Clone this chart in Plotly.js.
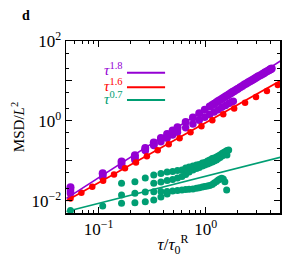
<!DOCTYPE html>
<html><head><meta charset="utf-8">
<script src="https://cdn.plot.ly/plotly-3.0.1.min.js"></script>
<style>html,body{margin:0;padding:0;background:#fff}#plot{width:305px;height:257px}</style>
</head><body><div id="plot"></div>
<script>
// ---- data ----
var tauA = [0.0545,0.109,0.1635,0.218,0.2725,0.327,0.3815,0.436,0.4905,0.545,0.65,0.76,0.87,0.98,1.09,1.15,1.2,1.26,1.31,1.36,1.42,1.47,1.53,1.58,1.64,1.70,1.75,1.80,1.85,1.93,2.0,2.1,2.2,2.3,2.4,2.5,2.6,2.7,2.8,2.9,3.0,3.1,3.25,3.4,3.5,3.6,3.75,3.9,4.0,4.07,4.14];
var msdA = [0.0219,0.0490,0.0955,0.138,0.209,0.288,0.372,0.468,0.575,0.692,0.933,1.216,1.549,1.905,2.291,2.489,2.692,2.911,3.126,3.319,3.589,3.784,4.074,4.285,4.571,4.853,5.129,5.346,5.623,6.012,6.383,6.934,7.499,8.091,8.610,9.290,9.772,10.47,10.96,11.69,12.30,13.03,13.96,14.96,15.67,16.41,17.38,18.54,19.28,19.86,20.42];
var tauB = [0.0545,0.109,0.1635,0.218,0.2725,0.327,0.3815,0.436,0.4905,0.545,0.65,0.76,0.87,0.98,1.09,1.2,1.31,1.42,1.53,1.64,1.75,1.81];
var msdB = [0.0151,0.0389,0.0741,0.1047,0.180,0.240,0.299,0.368,0.441,0.516,0.668,0.836,1.030,1.236,1.449,1.671,1.901,2.183,2.427,2.729,2.985,3.09];
var tauC = [0.0545,0.109,0.1635,0.218,0.2725,0.327,0.3815,0.436,0.4905,0.545];
var msdC = [0.0191,0.0452,0.0871,0.123,0.195,0.263,0.339,0.427,0.513,0.617];
var tauD = [0.0545,0.109,0.1635,0.218,0.2725,0.327];
var msdD = [0.0170,0.0417,0.0804,0.1135,0.186,0.251];

var tauRed = [0.0545,0.0689,0.0871,0.110,0.139,0.176,0.223,0.282,0.356,0.451,0.570,0.721,0.912,1.153,1.459,1.845,2.333,2.951,3.733,4.721];
var msdRed = [0.01135,0.0158,0.0224,0.0316,0.0452,0.0646,0.0912,0.130,0.184,0.260,0.367,0.519,0.733,1.035,1.462,2.04,2.85,3.98,5.56,7.94];

var tauG1 = [0.1635,0.218,0.2725,0.327,0.3815,0.436,0.4905,0.545,0.60,0.65,0.70,0.76,0.82,0.87,0.93,0.98,1.04,1.09,1.15,1.20,1.26,1.31,1.36,1.42,1.47,1.53,1.58,1.64];
var msdG1 = [0.0272,0.0299,0.0369,0.0439,0.0479,0.0522,0.0537,0.0569,0.0585,0.0657,0.0696,0.0737,0.0781,0.0804,0.0876,0.0902,0.0983,0.1041,0.1135,0.1168,0.1238,0.1311,0.1388,0.1514,0.1603,0.1698,0.1799,0.1851];
var tauG2 = [0.327,0.3815,0.436,0.4905,0.545,0.60,0.65,0.70,0.76,0.82,0.87,0.93,0.98,1.04,1.09,1.15,1.20,1.26,1.31,1.36,1.42,1.47,1.53,1.58];
var msdG2 = [0.0272,0.0293,0.0320,0.0339,0.0369,0.0403,0.0452,0.0522,0.0585,0.0638,0.0676,0.0737,0.0781,0.0827,0.0876,0.0928,0.0983,0.1041,0.1135,0.1202,0.1311,0.1388,0.1471,0.1388];
var tauG3 = [0.1635,0.218,0.2725,0.327,0.3815,0.436,0.4905,0.545,0.60,0.65,0.70,0.76,0.82,0.87,0.93,0.98,1.04,1.09,1.15,1.20,1.26,1.31,1.36,1.41,1.46,1.51,1.57];
var msdG3 = [0.0139,0.0153,0.0165,0.0168,0.0170,0.0170,0.0175,0.0180,0.0185,0.0191,0.0193,0.0198,0.0204,0.0210,0.0220,0.0226,0.0233,0.0240,0.0254,0.0277,0.0302,0.0329,0.0349,0.0363,0.0349,0.0299,0.0185];
var tauG4 = [0.0545,0.109,0.1635,0.218,0.2725,0.327,0.3815,0.436];
var msdG4 = [0.00569,0.00737,0.00861,0.00891,0.00944,0.0104,0.0124,0.0147];

// fitted power laws (end points)
var fitTau = [0.05, 5];
var fit18 = [0.0114, 31.6];
var fit16 = [0.0100, 10.1];
var fit07 = [0.00535, 0.1225];

var legendLabels = ['<i>τ</i><sup>1.8</sup>','<i>τ</i><sup>1.6</sup>','<i>τ</i><sup>0.7</sup>'];
var xTickVals = [0.1, 1];
var xTickText = ['10<sup>−1</sup>','10<sup>0</sup>'];
var yTickVals = [0.01, 0.1, 1, 10, 100];
var yTickText = ['10<sup>−2</sup>','','10<sup>0</sup>','','10<sup>2</sup>'];

// ---- styling ----
var PURPLE = '#9400d3', RED = '#ff0000', GREEN = '#009e73';
function pts(x, y, c, s) {
  return {x: x, y: y, type: 'scatter', mode: 'markers', marker: {color: c, size: s, line: {width: 0}}, showlegend: false, hoverinfo: 'skip'};
}
function ln(x, y, c) {
  return {x: x, y: y, type: 'scatter', mode: 'lines', line: {color: c, width: 1.6}, showlegend: false, hoverinfo: 'skip'};
}
var traces = [
  pts(tauD, msdD, PURPLE, 7.5), pts(tauC, msdC, PURPLE, 7.5), pts(tauB, msdB, PURPLE, 7.5), pts(tauA, msdA, PURPLE, 8),
  pts(tauRed, msdRed, RED, 6.5),
  pts(tauG4, msdG4, GREEN, 7), pts(tauG3, msdG3, GREEN, 7), pts(tauG2, msdG2, GREEN, 7), pts(tauG1, msdG1, GREEN, 7),
  ln(fitTau, fit18, PURPLE), ln(fitTau, fit16, RED), ln(fitTau, fit07, GREEN)
];

var xMinor = [0.06,0.07,0.08,0.09,0.2,0.3,0.4,0.5,0.6,0.7,0.8,0.9,2,3,4];
var yMinor = [0.02,0.05,0.2,0.5,2,5,20,50];
var FONT = '"Liberation Serif", "DejaVu Serif", serif';

var legendY = [0.836, 0.746, 0.666];
var lineY = [0.816, 0.731, 0.657];
var cols = [PURPLE, RED, GREEN];
var annotations = [], shapes = [];
for (var i = 0; i < 3; i++) {
  annotations.push({xref: 'paper', yref: 'paper', x: 0.275, y: legendY[i], xanchor: 'right', yanchor: 'middle',
    text: legendLabels[i], showarrow: false, font: {family: FONT, size: 15, color: cols[i]}});
  shapes.push({type: 'line', xref: 'paper', yref: 'paper', x0: 0.285, x1: 0.463, y0: lineY[i], y1: lineY[i],
    line: {color: cols[i], width: 2}});
}
annotations.push({xref: 'paper', yref: 'paper', x: -0.185, y: 1.151, xanchor: 'center', yanchor: 'middle',
  text: '<b>d</b>', showarrow: false, font: {family: FONT, size: 14, color: '#000'}});

var axisCommon = {type: 'log', showgrid: false, zeroline: false, showline: true, linecolor: '#000', linewidth: 1.5,
  mirror: 'allticks', ticks: 'inside', ticklen: 6, tickwidth: 1, tickcolor: '#000', tickmode: 'array',
  tickfont: {family: FONT, size: 17, color: '#000'}};

var layout = {
  width: 305, height: 257,
  margin: {l: 66, r: 25, t: 41, b: 44},
  paper_bgcolor: '#fff', plot_bgcolor: '#fff',
  xaxis: Object.assign({}, axisCommon, {
    range: [-1.3056, 0.6944], tickvals: xTickVals, ticktext: xTickText,
    minor: {tickmode: 'array', tickvals: xMinor, ticks: 'inside', ticklen: 3, tickcolor: '#000', tickwidth: 1, showgrid: false},
    title: {text: '<i>τ</i>/<i>τ</i><sub>0</sub><sup>R</sup>', font: {family: FONT, size: 17, color: '#000'}, standoff: 3}
  }),
  yaxis: Object.assign({}, axisCommon, {
    range: [-2.3075, 2.0], tickvals: yTickVals, ticktext: yTickText,
    minor: {tickmode: 'array', tickvals: yMinor, ticks: 'inside', ticklen: 3, tickcolor: '#000', tickwidth: 1, showgrid: false},
    title: {text: 'MSD/<i>L</i><sup>2</sup>', font: {family: FONT, size: 15, color: '#000'}, standoff: 3}
  }),
  annotations: annotations,
  shapes: shapes,
  showlegend: false
};
Plotly.newPlot('plot', traces, layout, {displayModeBar: false, staticPlot: true});
</script></body></html>
